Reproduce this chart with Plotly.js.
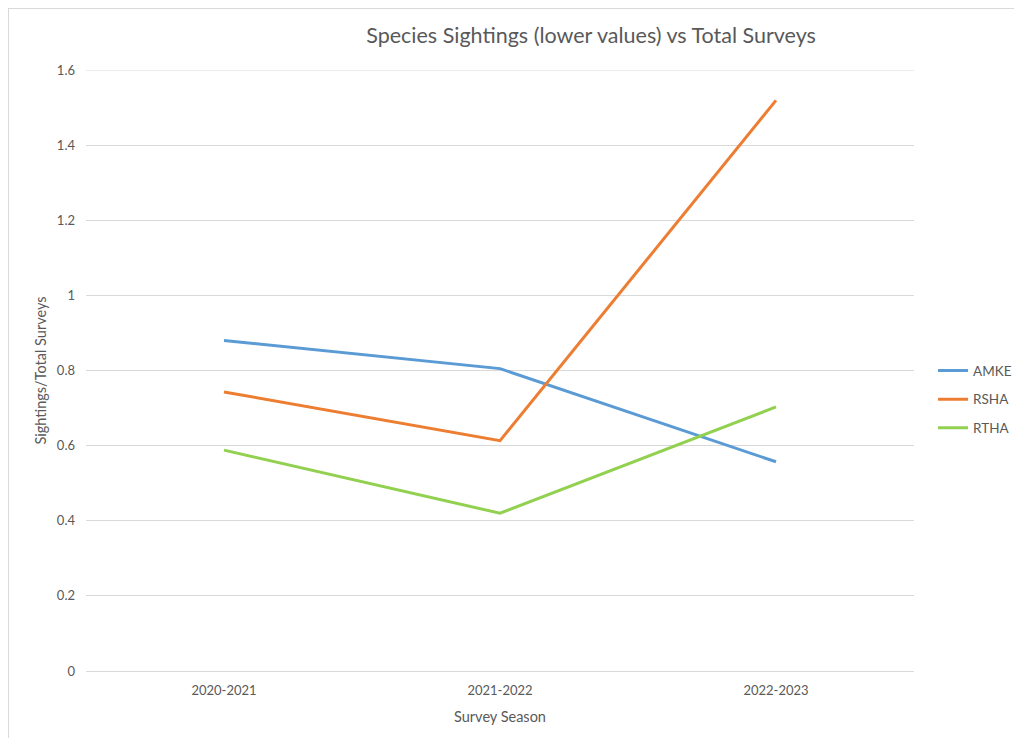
<!DOCTYPE html>
<html>
<head>
<meta charset="utf-8">
<script src="https://cdn.plot.ly/plotly-3.0.1.min.js"></script>
<style>
  html, body { margin: 0; padding: 0; background: #ffffff; }
  #wrap { position: relative; width: 1014px; height: 738px; overflow: hidden; }
  #chart { position: absolute; left: 0; top: 0; width: 1014px; height: 738px; }
  #frame { position: absolute; left: 8px; top: 8px; width: 1100px; height: 800px;
           border-left: 1px solid #d9d9d9; border-top: 1px solid #d9d9d9; pointer-events: none; }
</style>
</head>
<body>
<div id="wrap">
  <div id="chart"></div>
  <div id="frame"></div>
</div>
<script>
const seasons = ["2020-2021", "2021-2022", "2022-2023"];
const seriesNames = ["AMKE", "RSHA", "RTHA"];
const amke = [0.880, 0.805, 0.557];
const rsha = [0.743, 0.613, 1.519];
const rtha = [0.588, 0.420, 0.703];
const colors = ["#5B9BD5", "#ED7D31", "#92D050"];
const yTicks = [0, 0.2, 0.4, 0.6, 0.8, 1, 1.2, 1.4, 1.6];

const fontFam = "Lato, 'Open Sans', 'Liberation Sans', sans-serif";
const values = [amke, rsha, rtha];
const traces = values.map((v, i) => ({
  type: "scatter",
  mode: "lines",
  x: seasons,
  y: v,
  name: seriesNames[i],
  legendgroup: "g" + i,
  line: { color: colors[i], width: 3 },
  hoverinfo: "x+y+name"
}));

const layout = {
  width: 1014,
  height: 738,
  margin: { l: 86, r: 100, t: 70, b: 67, autoexpand: false },
  paper_bgcolor: "rgba(0,0,0,0)",
  plot_bgcolor: "rgba(0,0,0,0)",
  font: { family: fontFam, color: "#595959", size: 13 },
  title: {
    text: "Species Sightings (lower values) vs Total Surveys",
    font: { family: fontFam, size: 21.5, color: "#595959" },
    x: 0.61, xref: "paper", xanchor: "center",
    y: 38, yref: "container", yanchor: "middle"
  },
  xaxis: {
    type: "category",
    range: [-0.5, 2.5],
    showgrid: false,
    zeroline: false,
    showline: false,
    ticks: "",
    ticklabelstandoff: 10,
    tickfont: { size: 13, color: "#595959" },
    title: { text: "Survey Season", font: { size: 14.5, color: "#595959" }, standoff: 14 }
  },
  yaxis: {
    range: [0, 1.6],
    tickvals: yTicks,
    ticktext: yTicks.map(String),
    showgrid: true,
    gridcolor: "#d9d9d9",
    gridwidth: 1,
    zeroline: true,
    zerolinecolor: "#d9d9d9",
    zerolinewidth: 1,
    showline: false,
    ticks: "",
    ticklabelstandoff: 10,
    tickfont: { size: 13, color: "#595959" },
    title: { text: "Sightings/Total Surveys", font: { size: 14.5, color: "#595959" }, standoff: 6 }
  },
  legend: {
    x: 1.023, xanchor: "left",
    y: 0.452, yanchor: "middle",
    font: { size: 13.5, color: "#595959" },
    tracegroupgap: 8,
    bgcolor: "rgba(0,0,0,0)"
  },
  shapes: [
    { type: "line", xref: "paper", yref: "y", x0: 0, x1: 1, y0: 1.6, y1: 1.6,
      line: { color: "#d9d9d9", width: 1 }, layer: "below" }
  ]
};

Plotly.newPlot("chart", traces, layout, { displayModeBar: false, staticPlot: true });
</script>
</body>
</html>
